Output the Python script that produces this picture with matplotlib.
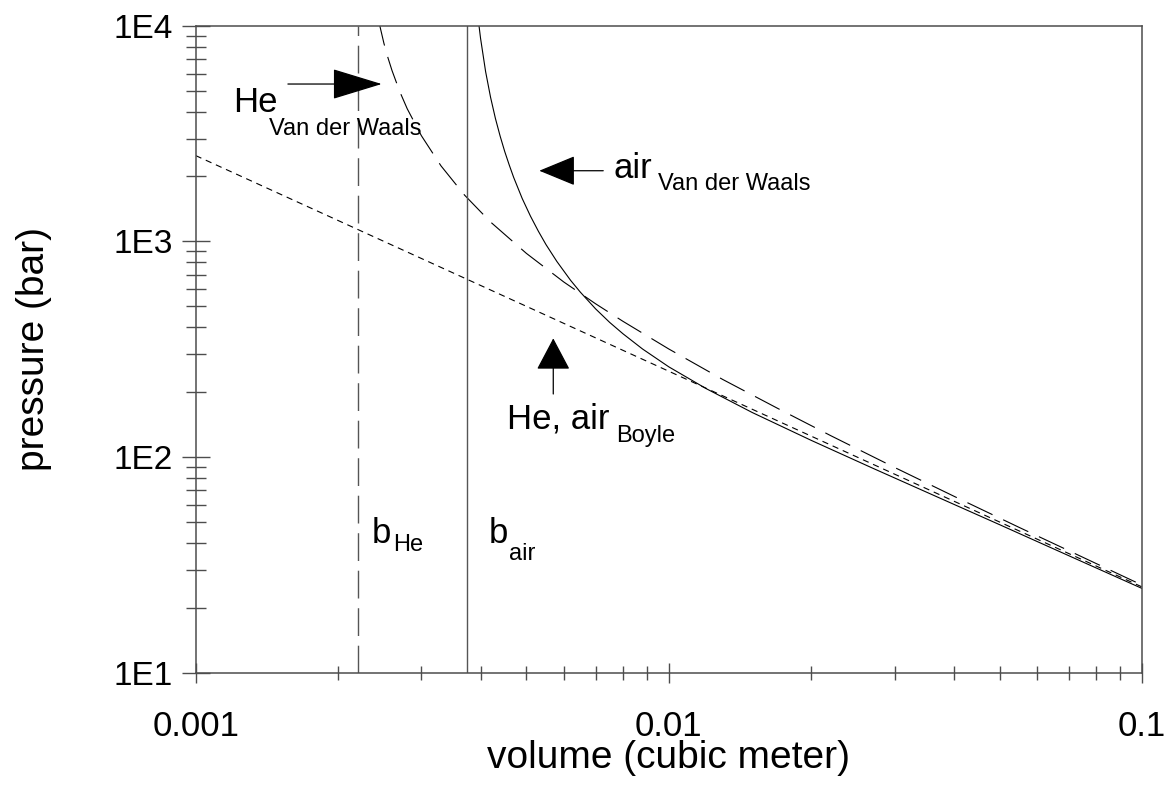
import numpy as np
import matplotlib.pyplot as plt
from matplotlib.ticker import FixedLocator, FixedFormatter, LogLocator, NullFormatter

plt.rcParams['font.family'] = ['Liberation Sans', 'DejaVu Sans']
plt.rcParams['lines.scale_dashes'] = False

# volume (m3) / pressure (bar)
vol_boyle = [0.001, 0.002, 0.005, 0.01, 0.02, 0.05, 0.1]
p_boyle = [2500, 1250, 500, 250, 125, 50, 25]

vol_he = [0.00243, 0.0025, 0.00255, 0.0026, 0.0027, 0.0028, 0.003, 0.0033, 0.0037,
          0.0042, 0.005, 0.006, 0.007, 0.008, 0.01, 0.013, 0.017, 0.022, 0.03,
          0.04, 0.055, 0.075, 0.1]
p_he = [10800, 8280, 7090, 6200, 4950, 4120, 3090, 2240, 1640,
        1230, 880, 648, 514, 426, 317, 229, 168, 125.6, 89.5,
        65.9, 47.2, 34.3, 25.5]

vol_air = [0.00396, 0.004, 0.0041, 0.0042, 0.0043, 0.0044, 0.0045, 0.0046, 0.0047,
           0.0049, 0.0051, 0.0053, 0.0055, 0.0058, 0.0062, 0.0065, 0.007, 0.0075,
           0.008, 0.0088, 0.01, 0.012, 0.015, 0.02, 0.027, 0.037, 0.05, 0.07, 0.1]
p_air = [10490, 8760, 6130, 4660, 3720, 3080, 2610, 2260, 1980,
         1580, 1310, 1115, 967, 807, 660, 582, 487, 421,
         373, 317, 262, 207.5, 161, 119.5, 88.7, 65.2, 48.6, 34.9, 24.6]

# excluded volumes (vertical lines)
b_he = 0.0022
b_air = 0.00374

x_ticks = [0.001, 0.01, 0.1]
x_labels = ['0.001', '0.01', '0.1']
y_ticks = [10, 100, 1000, 10000]
y_labels = ['1E1', '1E2', '1E3', '1E4']

axcol = '#4d4d4d'

fig = plt.figure(figsize=(11.66, 7.87), dpi=100)
ax = fig.add_axes([0.1678, 0.1452, 0.8116, 0.8221])
ax.set_xscale('log')
ax.set_yscale('log')

ax.plot(vol_boyle, p_boyle, color='black', lw=0.8, linestyle=(0, (4.5, 3.5)))
ax.plot(vol_he, p_he, color='black', lw=0.8, linestyle=(0, (20, 8.5)))
ax.plot(vol_air, p_air, color='black', lw=0.8)
ax.axvline(b_he, color='#555555', lw=1.0, linestyle=(0, (20, 7)))
ax.axvline(b_air, color='#555555', lw=1.0)

ax.set_xlim(0.001, 0.1)
ax.set_ylim(10, 10000)

ax.xaxis.set_major_locator(FixedLocator(x_ticks))
ax.xaxis.set_major_formatter(FixedFormatter(x_labels))
ax.yaxis.set_major_locator(FixedLocator(y_ticks))
ax.yaxis.set_major_formatter(FixedFormatter(y_labels))
ax.xaxis.set_minor_locator(LogLocator(base=10, subs=np.arange(2, 10)))
ax.yaxis.set_minor_locator(LogLocator(base=10, subs=np.arange(2, 10)))
ax.xaxis.set_minor_formatter(NullFormatter())
ax.yaxis.set_minor_formatter(NullFormatter())

ax.tick_params(axis='y', which='major', direction='inout', length=20, width=1.0,
               color=axcol, pad=6.3, labelsize=24)
ax.tick_params(axis='y', which='minor', direction='inout', length=14, width=1.0, color=axcol)
ax.tick_params(axis='x', which='major', direction='inout', length=14.4, width=1.0,
               color=axcol, pad=19.4, labelsize=25)
ax.tick_params(axis='x', which='minor', direction='inout', length=9.4, width=1.0, color=axcol)

for s in ax.spines.values():
    s.set_color(axcol)
    s.set_linewidth(1.1)

ax.set_xlabel('volume (cubic meter)', fontsize=28)
ax.set_ylabel('pressure (bar)', fontsize=28)
ax.xaxis.set_label_coords(0.5, -0.104)
ax.yaxis.set_label_coords(-0.152, 0.5)

# arrows
ax.annotate('', xy=(0.1966, 0.9099), xytext=(0.0975, 0.9099), xycoords='axes fraction',
            arrowprops=dict(arrowstyle='-|>,head_length=3.24,head_width=0.99', mutation_scale=10,
                            color='black', lw=0.9, shrinkA=0, shrinkB=0))
ax.annotate('', xy=(0.3631, 0.7759), xytext=(0.4307, 0.7759), xycoords='axes fraction',
            arrowprops=dict(arrowstyle='-|>,head_length=2.33,head_width=0.96', mutation_scale=10,
                            color='black', lw=0.9, shrinkA=0, shrinkB=0))
ax.annotate('', xy=(0.3779, 0.5168), xytext=(0.3779, 0.4308), xycoords='axes fraction',
            arrowprops=dict(arrowstyle='-|>,head_length=2.04,head_width=1.08', mutation_scale=10,
                            color='black', lw=0.9, shrinkA=0, shrinkB=0))

big = 25
small = 17
kw = dict(transform=ax.transAxes, ha='left', va='baseline')
ax.text(0.0391, 0.8671, 'He', fontsize=big, **kw)
ax.text(0.0778, 0.8311, 'Van der Waals', fontsize=small, **kw)
ax.text(0.4413, 0.7641, 'air', fontsize=big, **kw)
ax.text(0.4889, 0.7461, 'Van der Waals', fontsize=small, **kw)
ax.text(0.3286, 0.3777, 'He, air', fontsize=big, **kw)
ax.text(0.4441, 0.3570, 'Boyle', fontsize=small, **kw)
ax.text(0.1860, 0.2000, 'b', fontsize=big, **kw)
ax.text(0.2082, 0.1886, 'He', fontsize=small, **kw)
ax.text(0.3092, 0.2000, 'b', fontsize=big, **kw)
ax.text(0.3314, 0.1742, 'air', fontsize=small, **kw)

fig.savefig('out.png', dpi=100)
